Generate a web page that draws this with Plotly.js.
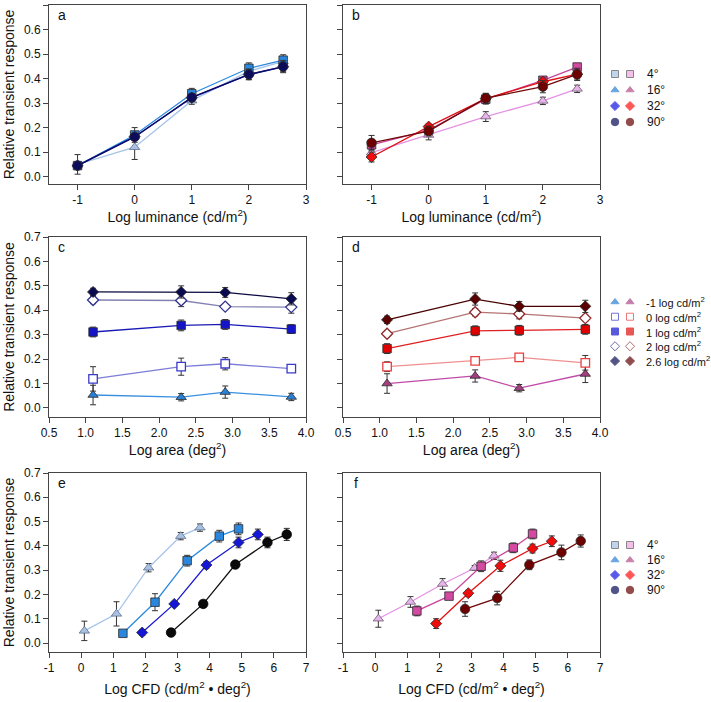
<!DOCTYPE html>
<html><head><meta charset="utf-8">
<script src="https://cdn.plot.ly/plotly-3.0.1.min.js"></script>
<style>html,body{margin:0;padding:0;background:#fff}#chart{width:711px;height:702px}</style>
</head><body><div id="chart"></div>
<script>
// ---------- data ----------
const lumLevels = [-1, 0, 1, 2, 2.6];
const areaLevels = [1.1, 2.3, 2.9, 3.8];

// panel a (blue, vs log luminance)
const aResp4 = [0.05, 0.12, 0.31, 0.43, 0.47];
const aErr4 = [0.04, 0.05, 0.015, 0.02, 0.015];
const aResp16 = [0.045, 0.17, 0.338, 0.442, 0.475];
const aErr16 = [0.01, 0.03, 0.022, 0.022, 0.022];
const aResp32 = [0.045, 0.163, 0.322, 0.416, 0.448];
const aErr32 = [0.01, 0.012, 0.015, 0.02, 0.02];
const aResp90 = [0.045, 0.162, 0.323, 0.417, 0.449];
const aErr90 = [0.01, 0.01, 0.01, 0.022, 0.025];

// panel b (red, vs log luminance)
const bResp4 = [0.098, 0.17, 0.245, 0.309, 0.358];
const bErr4 = [0.02, 0.02, 0.02, 0.015, 0.015];
const bResp16 = [0.13, 0.19, 0.316, 0.393, 0.447];
const bErr16 = [0.02, 0.015, 0.02, 0.015, 0.015];
const bResp32 = [0.08, 0.204, 0.318, 0.387, 0.418];
const bErr32 = [0.02, 0.01, 0.02, 0.015, 0.02];
const bResp90 = [0.138, 0.186, 0.32, 0.367, 0.417];
const bErr90 = [0.03, 0.02, 0.02, 0.025, 0.025];

// panel c (blue, vs log area)
const cRespM1 = [0.053, 0.044, 0.065, 0.045];
const cErrM1 = [0.04, 0.015, 0.025, 0.015];
const cResp0 = [0.119, 0.169, 0.181, 0.161];
const cErr0 = [0.05, 0.035, 0.025, 0.008];
const cResp1 = [0.311, 0.338, 0.342, 0.323];
const cErr1 = [0.02, 0.022, 0.02, 0.018];
const cResp2 = [0.442, 0.44, 0.415, 0.413];
const cErr2 = [0.015, 0.025, 0.008, 0.025];
const cResp26 = [0.475, 0.475, 0.473, 0.447];
const cErr26 = [0.015, 0.025, 0.02, 0.025];

// panel d (red, vs log area)
const dRespM1 = [0.1, 0.131, 0.081, 0.139];
const dErrM1 = [0.04, 0.025, 0.015, 0.035];
const dResp0 = [0.169, 0.193, 0.207, 0.185];
const dErr0 = [0.02, 0.01, 0.015, 0.03];
const dResp1 = [0.243, 0.316, 0.318, 0.322];
const dErr1 = [0.02, 0.02, 0.02, 0.02];
const dResp2 = [0.304, 0.392, 0.385, 0.368];
const dErr2 = [0.012, 0.015, 0.02, 0.012];
const dResp26 = [0.361, 0.446, 0.416, 0.416];
const dErr26 = [0.015, 0.025, 0.02, 0.025];

// panels e & f (vs log CFD)
const cfd4 = [0.1, 1.1, 2.1, 3.1, 3.7];
const cfd16 = [1.3, 2.3, 3.3, 4.3, 4.9];
const cfd32 = [1.9, 2.9, 3.9, 4.9, 5.5];
const cfd90 = [2.8, 3.8, 4.8, 5.8, 6.4];

const eResp4 = [0.05, 0.12, 0.31, 0.44, 0.475];
const eErr4 = [0.04, 0.05, 0.017, 0.015, 0.015];
const eResp16 = [0.04, 0.168, 0.339, 0.44, 0.47];
const eErr16 = [0.01, 0.035, 0.022, 0.024, 0.024];
const eResp32 = [0.043, 0.161, 0.321, 0.414, 0.447];
const eErr32 = [0.012, 0.01, 0.015, 0.022, 0.022];
const eResp90 = [0.043, 0.161, 0.323, 0.414, 0.447];
const eErr90 = [0.012, 0.008, 0.012, 0.022, 0.025];

const fResp4 = [0.1, 0.169, 0.243, 0.309, 0.359];
const fErr4 = [0.035, 0.022, 0.022, 0.01, 0.015];
const fResp16 = [0.132, 0.193, 0.316, 0.392, 0.449];
const fErr16 = [0.02, 0.008, 0.022, 0.02, 0.02];
const fResp32 = [0.08, 0.205, 0.318, 0.389, 0.419];
const fErr32 = [0.02, 0.012, 0.023, 0.018, 0.022];
const fResp90 = [0.14, 0.185, 0.322, 0.373, 0.42];
const fErr90 = [0.03, 0.028, 0.02, 0.03, 0.025];

// tick / legend labels
const lumTicks = [-1, 0, 1, 2, 3];
const areaTicks = [0.5, 1.0, 1.5, 2.0, 2.5, 3.0, 3.5, 4.0];
const cfdTicks = [-1, 0, 1, 2, 3, 4, 5, 6, 7];
const respTicks = [0, 0.1, 0.2, 0.3, 0.4, 0.5, 0.6, 0.7];
const sizeLabels = ['4°', '16°', '32°', '90°'];
const lumLabels = ['-1 log cd/m<sup>2</sup>', '0 log cd/m<sup>2</sup>', '1 log cd/m<sup>2</sup>', '2 log cd/m<sup>2</sup>', '2.6 log cd/m<sup>2</sup>'];
const panelLetters = ['a', 'b', 'c', 'd', 'e', 'f'];

// ---------- styles ----------
const EDGE = '#2a2a2a';
const S = {
  bTri:  {symbol:'triangle-up', size:9, fill:'#a8c2e6', edge:'#5f6f88', line:'#a6c4ea'},
  bSq:   {symbol:'square', size:8.5, fill:'#2b86dd', edge:EDGE, line:'#2b8ae0'},
  bDia:  {symbol:'diamond', size:8.5, fill:'#1616d6', edge:EDGE, line:'#1a1ad0'},
  bCirA: {symbol:'circle', size:9.5, fill:'#0c0c5a', edge:EDGE, line:'#0c0c5a'},
  bCirE: {symbol:'circle', size:9.5, fill:'#0a0a0a', edge:'#000', line:'#111111'},
  rTri:  {symbol:'triangle-up', size:9, fill:'#e6b4ea', edge:'#6f5a70', line:'#e592e4'},
  rSq:   {symbol:'square', size:8.5, fill:'#d44aa2', edge:EDGE, line:'#c8459c'},
  rDia:  {symbol:'diamond', size:8.5, fill:'#ee0c0c', edge:EDGE, line:'#e01010'},
  rCir:  {symbol:'circle', size:9.5, fill:'#6e0000', edge:EDGE, line:'#700808'},
  cTri:  {symbol:'triangle-up', size:9, fill:'#2a80d6', edge:EDGE, line:'#3a90e0'},
  cOSq:  {symbol:'square', size:8.5, edge:'#3a3acc', line:'#7c7cd8', open:true},
  cSq:   {symbol:'square', size:8.5, fill:'#1414c8', edge:EDGE, line:'#1a1ab4'},
  cODia: {symbol:'diamond', size:8.5, edge:'#303090', line:'#8282b2', open:true},
  cDia:  {symbol:'diamond', size:8.5, fill:'#0a0a50', edge:EDGE, line:'#0a0a40'},
  dTri:  {symbol:'triangle-up', size:9, fill:'#a2407f', edge:EDGE, line:'#c24aa8'},
  dOSq:  {symbol:'square', size:8.5, edge:'#e84040', line:'#f09090', open:true},
  dSq:   {symbol:'square', size:8.5, fill:'#e00000', edge:EDGE, line:'#e02020'},
  dODia: {symbol:'diamond', size:8.5, edge:'#902828', line:'#b47474', open:true},
  dDia:  {symbol:'diamond', size:8.5, fill:'#5a0000', edge:EDGE, line:'#4a0000'}
};

function series(n, x, y, err, st) {
  const marker = st.open
    ? {symbol: st.symbol, size: st.size, color:'#ffffff', line:{color: st.edge, width:1.3}}
    : {symbol: st.symbol, size: st.size, color: st.fill, line:{color: st.edge, width:0.8}};
  return {
    type:'scatter', mode:'lines+markers', x:x, y:y,
    xaxis:'x'+(n===1?'':n), yaxis:'y'+(n===1?'':n),
    showlegend:false, hoverinfo:'x+y', cliponaxis:false,
    line:{color: st.line, width:1.3},
    marker: marker,
    error_y:{type:'data', array:err, visible:true, color:'#333', thickness:1, width:3}
  };
}

const traces = [
  series(1, lumLevels, aResp4, aErr4, S.bTri),
  series(1, lumLevels, aResp16, aErr16, S.bSq),
  series(1, lumLevels, aResp32, aErr32, S.bDia),
  series(1, lumLevels, aResp90, aErr90, S.bCirA),
  series(2, lumLevels, bResp4, bErr4, S.rTri),
  series(2, lumLevels, bResp16, bErr16, S.rSq),
  series(2, lumLevels, bResp32, bErr32, S.rDia),
  series(2, lumLevels, bResp90, bErr90, S.rCir),
  series(3, areaLevels, cRespM1, cErrM1, S.cTri),
  series(3, areaLevels, cResp0, cErr0, S.cOSq),
  series(3, areaLevels, cResp1, cErr1, S.cSq),
  series(3, areaLevels, cResp2, cErr2, S.cODia),
  series(3, areaLevels, cResp26, cErr26, S.cDia),
  series(4, areaLevels, dRespM1, dErrM1, S.dTri),
  series(4, areaLevels, dResp0, dErr0, S.dOSq),
  series(4, areaLevels, dResp1, dErr1, S.dSq),
  series(4, areaLevels, dResp2, dErr2, S.dODia),
  series(4, areaLevels, dResp26, dErr26, S.dDia),
  series(5, cfd4, eResp4, eErr4, S.bTri),
  series(5, cfd16, eResp16, eErr16, S.bSq),
  series(5, cfd32, eResp32, eErr32, S.bDia),
  series(5, cfd90, eResp90, eErr90, S.bCirE),
  series(6, cfd4, fResp4, fErr4, S.rTri),
  series(6, cfd16, fResp16, fErr16, S.rSq),
  series(6, cfd32, fResp32, fErr32, S.rDia),
  series(6, cfd90, fResp90, fErr90, S.rCir)
];

// ---------- legends (drawn on hidden helper axes) ----------
const legSizeCol0 = [
  {symbol:'square', color:'#a8c2e6', edge:'#555'},
  {symbol:'triangle-up', color:'#2a7fd4', edge:'#2a7fd4'},
  {symbol:'diamond', color:'#1414e0', edge:'#1414e0'},
  {symbol:'circle', color:'#0a0a5a', edge:'#0a0a5a'}];
const legSizeCol1 = [
  {symbol:'square', color:'#f0a6e2', edge:'#555'},
  {symbol:'triangle-up', color:'#b24c86', edge:'#b24c86'},
  {symbol:'diamond', color:'#ff1010', edge:'#ff1010'},
  {symbol:'circle', color:'#650000', edge:'#650000'}];
const legLumCol0 = [
  {symbol:'triangle-up', color:'#2a7fd4', edge:'#2a7fd4'},
  {symbol:'square', color:'#ffffff', edge:'#3a3acc'},
  {symbol:'square', color:'#1414d0', edge:'#1414d0'},
  {symbol:'diamond', color:'#ffffff', edge:'#303090'},
  {symbol:'diamond', color:'#0a0a50', edge:'#0a0a50'}];
const legLumCol1 = [
  {symbol:'triangle-up', color:'#a8488a', edge:'#a8488a'},
  {symbol:'square', color:'#ffffff', edge:'#e84040'},
  {symbol:'square', color:'#e01010', edge:'#e01010'},
  {symbol:'diamond', color:'#ffffff', edge:'#903030'},
  {symbol:'diamond', color:'#600000', edge:'#600000'}];

function legendCol(n, col, spec) {
  return {
    type:'scatter', mode:'markers', xaxis:'x'+n, yaxis:'y'+n, showlegend:false, hoverinfo:'skip',
    x: spec.map(() => col), y: spec.map((_, i) => i),
    marker:{symbol: spec.map(s => s.symbol), size: spec.map(s => s.symbol==='circle'?7.5:7),
      color: spec.map(s => s.color), line:{color: spec.map(s => s.edge), width:1}}
  };
}
traces.push(legendCol(7, 0, legSizeCol0), legendCol(7, 1, legSizeCol1));
traces.push(legendCol(8, 0, legLumCol0), legendCol(8, 1, legLumCol1));
traces.push(legendCol(9, 0, legSizeCol0), legendCol(9, 1, legSizeCol1));

// ---------- layout ----------
const FONT = 'Liberation Sans, Arial, sans-serif';
const W = 711, H = 702;
const colX = [[49/W, 306/W], [343/W, 600/W]];
const rowY = [[1-184/H, 1-5/H], [1-417/H, 1-237/H], [1-652/H, 1-473/H]];
const rowYRange = [[-0.03, 0.7], [-0.037, 0.7], [-0.037, 0.7]];
const rowXRange = [[-1.5, 3], [0.5, 4], [-1, 7]];
const rowXTicks = [lumTicks, areaTicks, cfdTicks];
const rowXFmt = ['', '.1f', ''];
const rowXTitle = ['Log luminance (cd/m<sup>2</sup>)', 'Log area (deg<sup>2</sup>)', 'Log CFD (cd/m<sup>2</sup> \u2022 deg<sup>2</sup>)'];
const rowXStandoff = [4, 3, 9];

const layout = {
  width: W, height: H, margin:{l:0, r:0, t:0, b:0},
  paper_bgcolor:'#ffffff', plot_bgcolor:'#ffffff',
  font:{family: FONT, size:12, color:'#111'},
  showlegend:false, annotations:[]
};

const axBase = {showline:true, linecolor:'#444', linewidth:1, mirror:true, ticks:'outside', ticklen:5,
  tickcolor:'#444', tickwidth:1, showgrid:false, zeroline:false, tickfont:{family:FONT, size:12, color:'#111'}, fixedrange:true};

for (let r = 0; r < 3; r++) {
  for (let c = 0; c < 2; c++) {
    const n = r*2 + c + 1;
    const sfx = n === 1 ? '' : String(n);
    layout['xaxis'+sfx] = Object.assign({}, axBase, {
      domain: colX[c], anchor:'y'+sfx, range: rowXRange[r], tickmode:'array', tickvals: rowXTicks[r],
      ticktext: rowXTicks[r].map(v => rowXFmt[r] ? v.toFixed(1) : String(v)),
      title:{text: rowXTitle[r], font:{family:FONT, size:14, color:'#111'}, standoff: rowXStandoff[r]}
    });
    const yax = Object.assign({}, axBase, {
      domain: rowY[r], anchor:'x'+sfx, range: rowYRange[r], tickmode:'array', tickvals: respTicks,
      ticktext: respTicks.map(v => v.toFixed(1)), showticklabels: c === 0
    });
    if (c === 0) yax.title = {text:'Relative transient response', font:{family:FONT, size:14, color:'#111'}, standoff:6};
    layout['yaxis'+sfx] = yax;
    layout.annotations.push({text: panelLetters[n-1], xref:'x'+sfx+' domain', yref:'y'+sfx+' domain',
      x:0.05, y:0.945, xanchor:'center', yanchor:'middle', showarrow:false, font:{family:FONT, size:14, color:'#111'}});
  }
}

// helper legend axes
const legX = [605/W, 1];
const legRows = [[1-130/H, 1-66/H, 4], [1-368.4/H, 1-294.6/H, 5], [1-597.5/H, 1-537.5/H, 4]];
const legFont = [12, 11, 12];
[7, 8, 9].forEach((n, k) => {
  layout['xaxis'+n] = {domain: legX, anchor:'y'+n, range:[-0.6667, 6.4], visible:false, fixedrange:true};
  layout['yaxis'+n] = {domain:[legRows[k][0], legRows[k][1]], anchor:'x'+n, range:[legRows[k][2]-0.5, -0.5], visible:false, fixedrange:true};
  const labels = n === 8 ? lumLabels : sizeLabels;
  labels.forEach((t, i) => layout.annotations.push({text:t, xref:'x'+n, yref:'y'+n, x:(n === 8 ? 1.95 : 2), y:i,
    xanchor:'left', yanchor:'middle', showarrow:false, font:{family:FONT, size:legFont[k], color:'#111'}}));
});

Plotly.newPlot('chart', traces, layout, {displayModeBar:false});
</script></body></html>
